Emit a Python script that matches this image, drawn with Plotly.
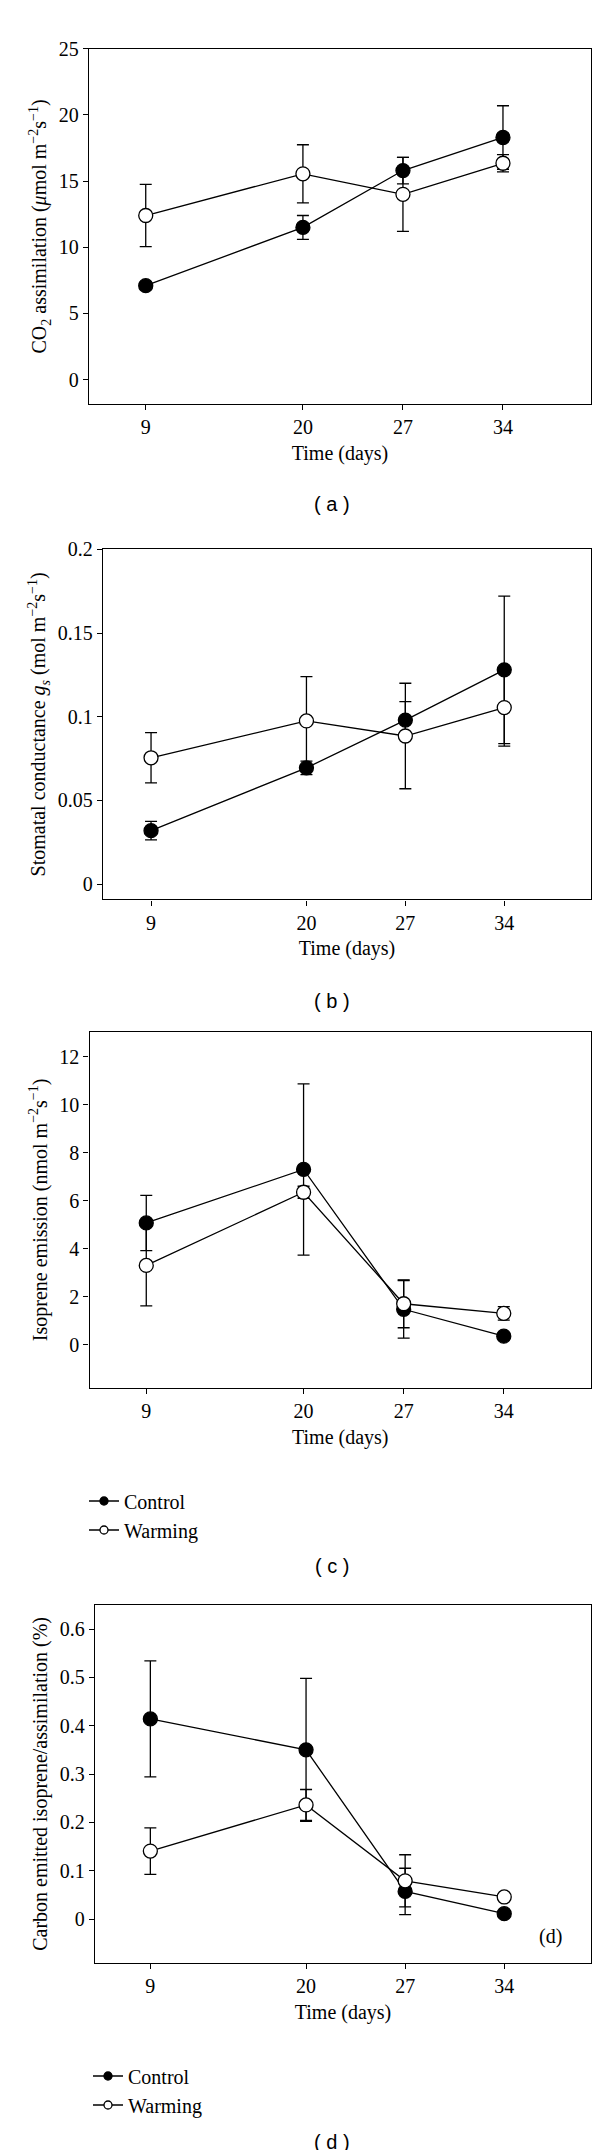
import plotly.graph_objects as go

# ---------------- data ----------------
days = [9, 20, 27, 34]
day_labels = ["9", "20", "27", "34"]

co2_control = [7.1, 11.5, 15.8, 18.3]
co2_control_err = [0.3, 0.9, 1.0, 2.4]
co2_warming = [12.4, 15.55, 14.0, 16.35]
co2_warming_err = [2.35, 2.2, 2.8, 0.65]

gs_control = [0.032, 0.0695, 0.098, 0.128]
gs_control_err = [0.0055, 0.004, 0.011, 0.044]
gs_warming = [0.0755, 0.0975, 0.0885, 0.1055]
gs_warming_err = [0.015, 0.0265, 0.0315, 0.023]

iso_control = [5.07, 7.3, 1.47, 0.35]
iso_control_err = [1.15, 3.57, 1.2, 0.15]
iso_warming = [3.3, 6.35, 1.7, 1.3]
iso_warming_err = [1.69, 0.25, 1.0, 0.28]

pct_control = [0.414, 0.350, 0.057, 0.011]
pct_control_err = [0.12, 0.148, 0.048, 0.006]
pct_warming = [0.1405, 0.236, 0.079, 0.0456]
pct_warming_err = [0.048, 0.032, 0.054, 0.005]

series_names = ["Control", "Warming"]

# ---------------- styling ----------------
W, H = 600, 2150
SERIF = "Liberation Serif, Times New Roman, serif"
SANS = "Liberation Sans, Arial, sans-serif"
LW = 1.3


def py(p):
    return 1 - p / H


def px(p):
    return p / W


panels = [
    # x domain px, y domain px (top, bottom), x range, y range, y ticks, y title
    dict(xd=(81, 583), yd=(30, 387), xr=(5.03, 40.16), yr=(-1.85, 25),
         tv=[0, 5, 10, 15, 20, 25], tt=["0", "5", "10", "15", "20", "25"],
         title="CO<sub>2</sub> assimilation (<i>μ</i>mol m<sup>−2</sup>s<sup>−1</sup>)",
         c=co2_control, ce=co2_control_err, w=co2_warming, we=co2_warming_err),
    dict(xd=(95, 583), yd=(533, 885), xr=(5.6, 40.14), yr=(-0.0091, 0.2),
         tv=[0, 0.05, 0.1, 0.15, 0.2], tt=["0", "0.05", "0.1", "0.15", "0.2"],
         title="Stomatal conductance <i>g<sub>s</sub></i> (mol m<sup>−2</sup>s<sup>−1</sup>)",
         c=gs_control, ce=gs_control_err, w=gs_warming, we=gs_warming_err),
    dict(xd=(81.5, 583), yd=(1018, 1376), xr=(5.03, 40.1), yr=(-1.81, 13.04),
         tv=[0, 2, 4, 6, 8, 10, 12], tt=["0", "2", "4", "6", "8", "10", "12"],
         title="Isoprene emission (nmol m<sup>−2</sup>s<sup>−1</sup>)",
         c=iso_control, ce=iso_control_err, w=iso_warming, we=iso_warming_err),
    dict(xd=(87, 583), yd=(1594, 1954), xr=(5.09, 40.13), yr=(-0.091, 0.65),
         tv=[0, 0.1, 0.2, 0.3, 0.4, 0.5, 0.6], tt=["0", "0.1", "0.2", "0.3", "0.4", "0.5", "0.6"],
         title="Carbon emitted isoprene/assimilation (%)",
         c=pct_control, ce=pct_control_err, w=pct_warming, we=pct_warming_err),
]

fig = go.Figure()
layout = dict(
    width=W, height=H,
    margin=dict(l=0, r=0, t=0, b=0),
    paper_bgcolor="white", plot_bgcolor="white",
    font=dict(family=SERIF, size=20, color="black"),
    showlegend=True,
)

for i, p in enumerate(panels):
    n = i + 1
    xa = "x" if n == 1 else f"x{n}"
    ya = "y" if n == 1 else f"y{n}"
    xkey = "xaxis" if n == 1 else f"xaxis{n}"
    ykey = "yaxis" if n == 1 else f"yaxis{n}"

    for name, vals, errs, fill in [
        (series_names[0], p["c"], p["ce"], "black"),
        (series_names[1], p["w"], p["we"], "white"),
    ]:
        fig.add_trace(go.Scatter(
            x=days, y=vals, xaxis=xa, yaxis=ya, name=name,
            mode="lines+markers", showlegend=False,
            line=dict(color="black", width=LW),
            marker=dict(size=14, color=fill, line=dict(color="black", width=LW)),
            error_y=dict(type="data", array=errs, visible=True,
                         color="black", thickness=LW, width=6),
        ))

    layout[xkey] = dict(
        domain=[px(p["xd"][0]), px(p["xd"][1])], anchor=ya,
        range=list(p["xr"]), tickvals=days, ticktext=day_labels,
        ticks="outside", ticklen=5, tickwidth=LW, tickcolor="black",
        showline=True, linecolor="black", linewidth=LW, mirror=True,
        showgrid=False, zeroline=False,
        tickfont=dict(family=SERIF, size=20, color="black"),
        title=dict(text="Time (days)", font=dict(family=SERIF, size=20, color="black"), standoff=8),
    )
    layout[ykey] = dict(
        domain=[py(p["yd"][1]), py(p["yd"][0])], anchor=xa,
        range=list(p["yr"]), tickvals=p["tv"], ticktext=p["tt"],
        ticks="outside", ticklen=5, tickwidth=LW, tickcolor="black",
        showline=True, linecolor="black", linewidth=LW, mirror=True,
        showgrid=False, zeroline=False,
        tickfont=dict(family=SERIF, size=20, color="black"),
        title=dict(text=p["title"], font=dict(family=SERIF, size=20, color="black"), standoff=6),
    )

# legend-only entries for panels (c) and (d)
for leg in ["legend", "legend2"]:
    for name, fill in [(series_names[0], "black"), (series_names[1], "white")]:
        fig.add_trace(go.Scatter(
            x=[None], y=[None], name=name, legend=leg, mode="lines+markers",
            line=dict(color="black", width=LW),
            marker=dict(size=8, color=fill, line=dict(color="black", width=LW)),
            showlegend=True, hoverinfo="skip",
        ))

legend_style = dict(
    bgcolor="rgba(0,0,0,0)", borderwidth=0,
    font=dict(family=SERIF, size=20, color="black"),
    xanchor="left", yanchor="top", tracegroupgap=0,
)
layout["legend"] = dict(x=px(76), y=py(1470), **legend_style)
layout["legend2"] = dict(x=px(80), y=py(2048), **legend_style)

annotations = []
for lbl, yy in [("( a )", 487), ("( b )", 987), ("( c )", 1555), ("( d )", 2134)]:
    annotations.append(dict(
        text=lbl, x=px(324), y=py(yy), xref="paper", yref="paper",
        xanchor="center", yanchor="middle", showarrow=False,
        font=dict(family=SANS, size=20, color="black"),
    ))
annotations.append(dict(
    text="(d)", x=px(542), y=py(1927), xref="paper", yref="paper",
    xanchor="center", yanchor="middle", showarrow=False,
    font=dict(family=SERIF, size=20, color="black"),
))
layout["annotations"] = annotations

fig.update_layout(**layout)
fig.write_html("out.html")
